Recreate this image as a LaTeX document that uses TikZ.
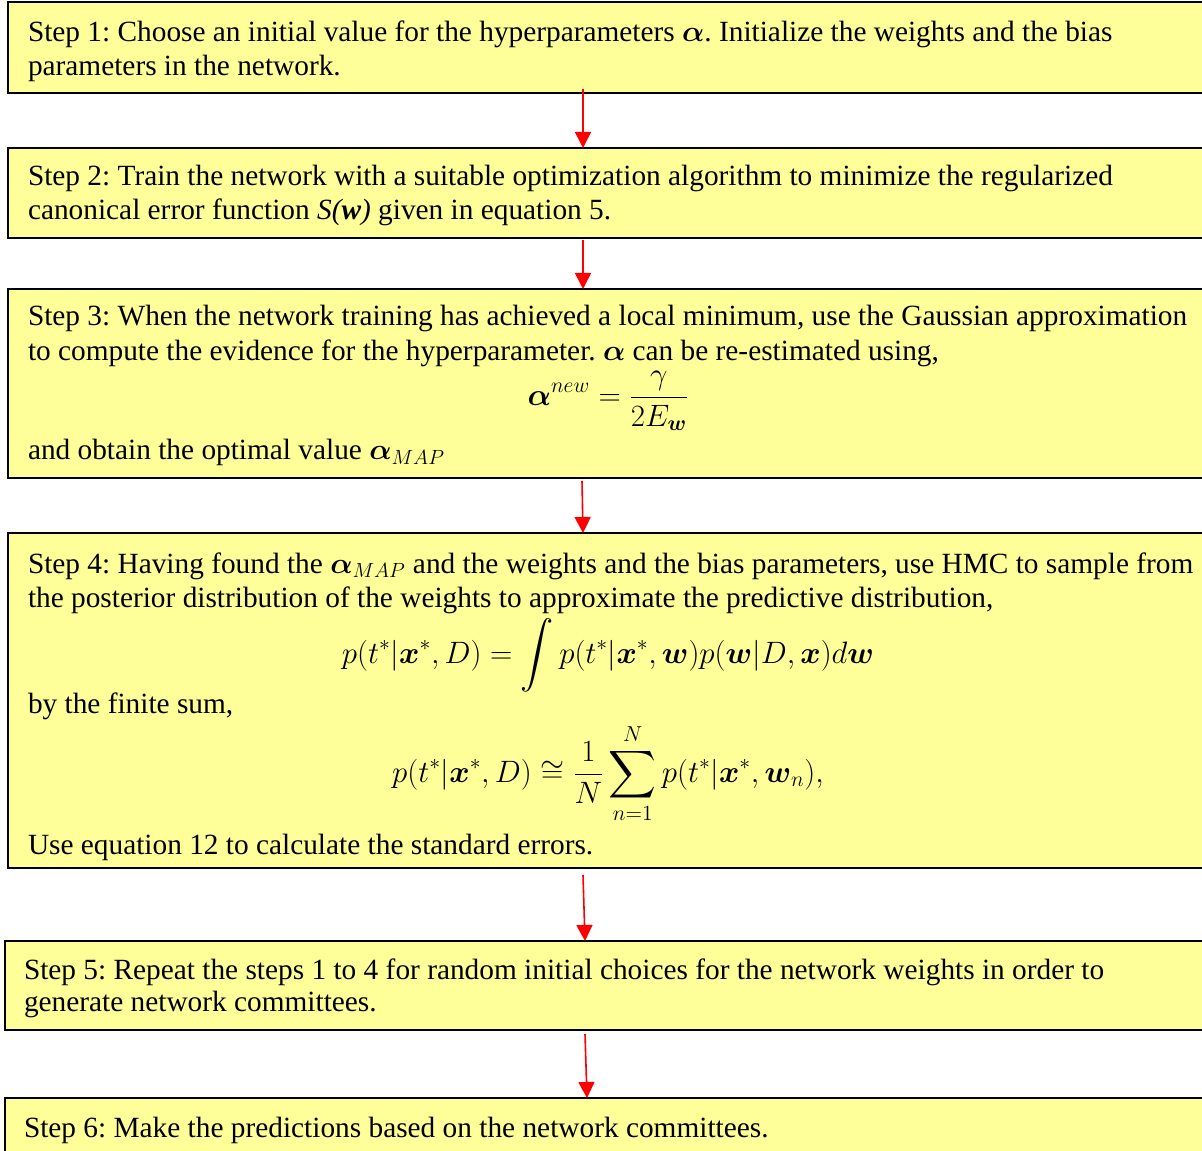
\RequirePackage{fix-cm}
\documentclass[tikz,border=0pt]{standalone}
\usepackage{amsmath}
\usepackage{fontspec}
\setmainfont{Liberation Serif}
\usetikzlibrary{arrows.meta,calc}
\definecolor{boxfill}{RGB}{255,255,153}
\newlength\px \setlength\px{0.75pt}
\newlength\lmargin
\newlength\bw \setlength\bw{1215\px}
\newcommand\boxlines[3]{\vbox to #1{\frenchspacing\hsize=\bw\setlength\lmargin{#2}\baselineskip=0pt\lineskip=0pt\lineskiplimit=-\maxdimen\hbox{}#3\vss}}
\newcommand\txl[2]{\vskip#1\relax\hbox to \bw{\hskip\lmargin#2\hss}}
\newcommand\mathln[2]{\vskip#1\relax\hbox to \bw{\hskip\lmargin\hbox to 1160\px{\hss\fontsize{23.2pt}{25pt}\selectfont$\displaystyle#2$\hss}\hss}}
\tikzset{
  stepbox/.style={draw=black, line width=1.5pt, fill=boxfill, inner sep=0pt, outer sep=0pt,
    anchor=north west, font=\fontsize{22pt}{25pt}\selectfont},
  arr/.style={red, line width=1.2pt, -{Triangle[length=12pt,width=12pt]}}
}
\begin{document}
\begin{tikzpicture}[x=0.75pt,y=-0.75pt]
\useasboundingbox (0,0) rectangle (1202,1151);
\clip (0,0) rectangle (1202,1151);
\node[stepbox] (b1) at (8,2) {\boxlines{91\px}{20\px}{%
  \txl{40\px}{Step 1: Choose an initial value for the hyperparameters $\boldsymbol{\alpha}$. Initialize the weights and the bias}%
  \txl{34\px}{parameters in the network.}}};
\node[stepbox] (b2) at (8,148) {\boxlines{90\px}{20\px}{%
  \txl{38\px}{Step 2: Train the network with a suitable optimization algorithm to minimize the regularized}%
  \txl{34\px}{canonical error function \textit{S(\textbf{w})} given in equation 5.}}};
\node[stepbox] (b3) at (8,289) {\boxlines{189\px}{20\px}{%
  \txl{37\px}{Step 3: When the network training has achieved a local minimum, use the Gaussian approximation}%
  \txl{34\px}{to compute the evidence for the hyperparameter. $\boldsymbol{\alpha}$ can be re-estimated using,}%
  \mathln{45\px}{\boldsymbol{\alpha}^{new} = \frac{\gamma}{2E_{\boldsymbol{w}}}}%
  \txl{55\px}{and obtain the optimal value $\boldsymbol{\alpha}_{MAP}$}}};
\node[stepbox] (b4) at (8,533) {\boxlines{335\px}{20\px}{%
  \txl{40\px}{Step 4: Having found the $\boldsymbol{\alpha}_{MAP}$ and the weights and the bias parameters, use HMC to sample from}%
  \txl{34\px}{the posterior distribution of the weights to approximate the predictive distribution,}%
  \mathln{56\px}{p(t^{*}|\boldsymbol{x}^{*},D)=\int p(t^{*}|\boldsymbol{x}^{*},\boldsymbol{w})p(\boldsymbol{w}|D,\boldsymbol{x})d\boldsymbol{w}}%
  \txl{50\px}{by the finite sum,}%
  \mathln{69\px}{p(t^{*}|\boldsymbol{x}^{*},D)\cong\frac{1}{N}\sum_{n=1}^{N}p(t^{*}|\boldsymbol{x}^{*},\boldsymbol{w}_{n}),}%
  \txl{72\px}{Use equation 12 to calculate the standard errors.}}};
\node[stepbox] (b5) at (5,941) {\boxlines{89\px}{19\px}{%
  \txl{38\px}{Step 5: Repeat the steps 1 to 4 for random initial choices for the network weights in order to}%
  \txl{32\px}{generate network committees.}}};
\node[stepbox] (b6) at (5,1098) {\boxlines{70\px}{19\px}{%
  \txl{39\px}{Step 6: Make the predictions based on the network committees.}}};
\draw[arr] ($(b1.south west)+(575,-4)$) -- ($(b2.north west)+(575,0)$);
\draw[arr] ($(b2.south west)+(575,2)$) -- ($(b3.north west)+(575,0)$);
\draw[arr] ($(b3.south west)+(574,3)$) -- ($(b4.north west)+(575,0)$);
\draw[arr] ($(b4.south west)+(575,7)$) -- ($(b5.north west)+(580,0)$);
\draw[arr] ($(b5.south west)+(580,4)$) -- ($(b6.north west)+(582,0)$);
\end{tikzpicture}
\end{document}
